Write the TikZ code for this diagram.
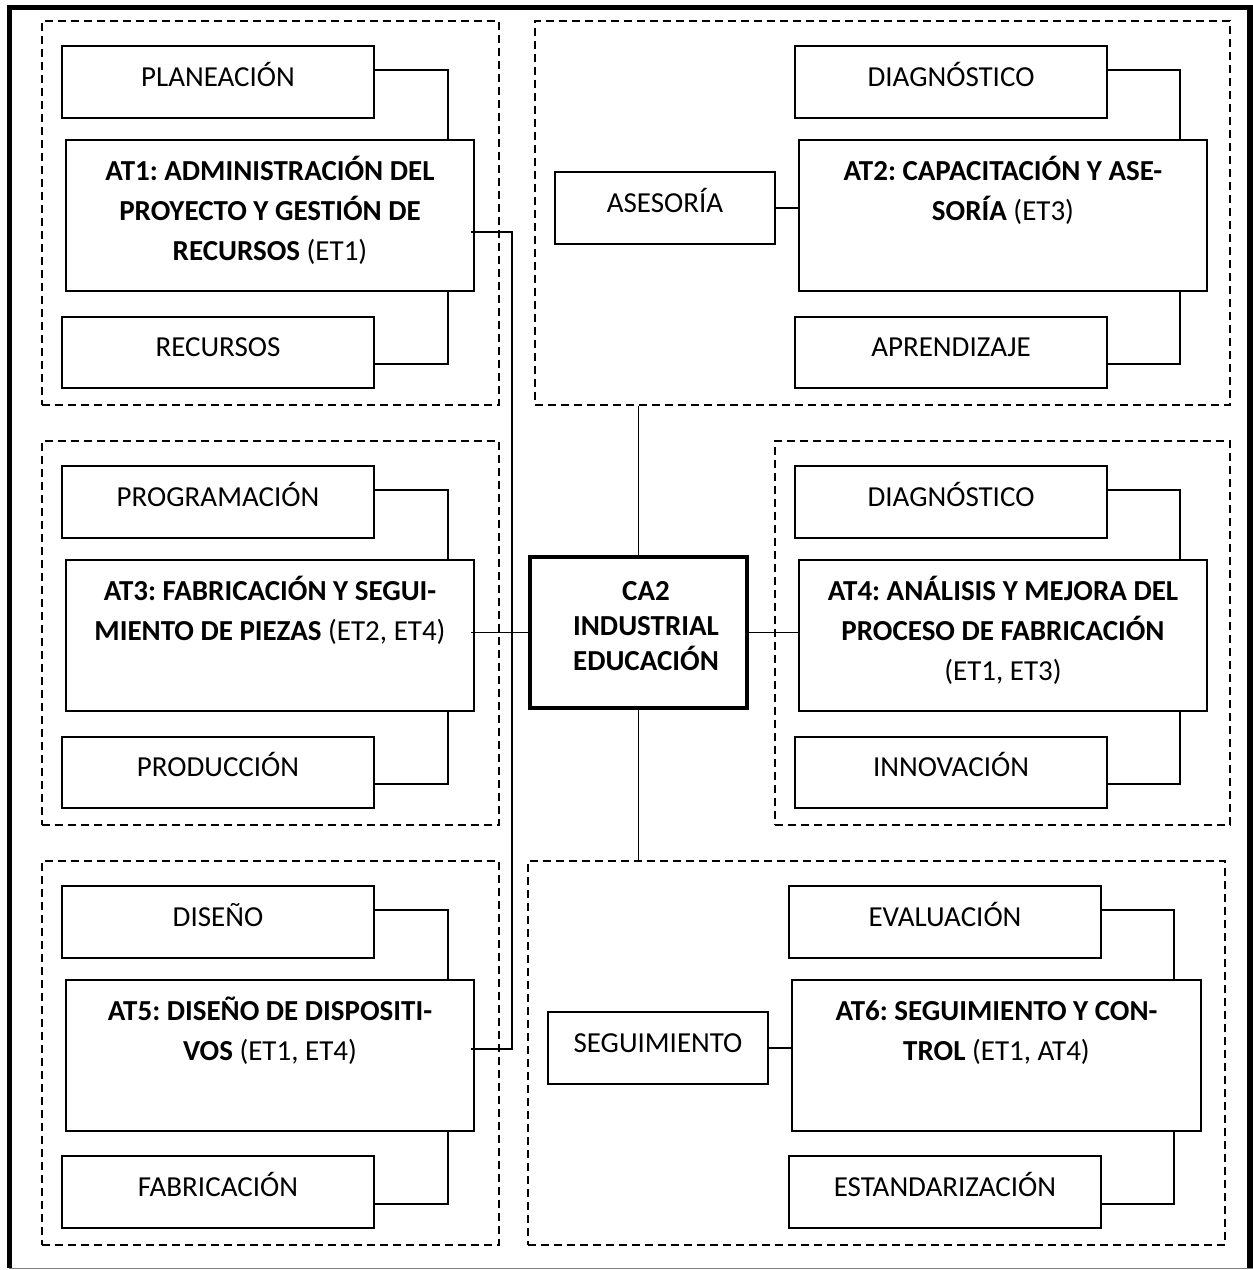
\documentclass[tikz,border=0pt]{standalone}
\usepackage{fontspec}
\setmainfont{Carlito}
\frenchspacing
\usetikzlibrary{fit,calc}
\begin{document}
\begin{tikzpicture}[x=1pt,y=-1pt,
  box/.style={draw, line width=1.8pt, inner sep=0pt},
  zone/.style={draw, line width=1.6pt, dash pattern=on 8pt off 5pt, inner sep=0pt},
  hub/.style={draw, line width=4pt, inner sep=0pt},
  link/.style={line width=1.8pt},
  lbl/.style={anchor=base, inner sep=0pt, font=\fontsize{29}{35}\selectfont},
  head/.style={anchor=north, inner sep=0pt, align=center, font=\fontsize{29}{40}\selectfont},
]
\useasboundingbox (0,0) rectangle (1253,1270);

% outer frame
\draw[line width=5.5pt] (9.5,1268) -- (9.5,7.5) -- (1250,7.5) -- (1250,1268);
\draw[gray, line width=1.2pt] (9,1268.5) -- (1253,1268.5);

% ---------- AT1 group ----------
\node[zone, fit={(42,21)(499,405)}] (z1) {};
\node[box, fit={(62,46)(374,118)}] (plan1) {};
\node[box, fit={(66,140)(474,291)}] (at1) {};
\node[box, fit={(62,317)(374,388)}] (rec1) {};
\node[lbl] (tplan1) at ([yshift=-4pt]plan1.center) {PLANEACIÓN};
\node[lbl] (trec1) at ([yshift=-4pt]rec1.center) {RECURSOS};
\node[head] (tat1) at ([yshift=-11pt]at1.north)
  {\rule{0pt}{30pt}\textbf{AT1: ADMINISTRACIÓN DEL}\\\textbf{PROYECTO Y GESTIÓN DE}\\\textbf{RECURSOS} (ET1)};
\draw[link] ($(plan1.north east)!0.333!(plan1.south east)$) -| ($(at1.north west)!0.934!(at1.north east)$);
\draw[link] ($(at1.south west)!0.934!(at1.south east)$) |- ($(rec1.north east)!0.66!(rec1.south east)$);

% ---------- AT3 group ----------
\node[zone, fit={(42,441)(499,825)}] (z3) {};
\node[box, fit={(62,466)(374,538)}] (prog) {};
\node[box, fit={(66,560)(474,711)}] (at3) {};
\node[box, fit={(62,737)(374,808)}] (prod) {};
\node[lbl] (tprog) at ([yshift=-4pt]prog.center) {PROGRAMACIÓN};
\node[lbl] (tprod) at ([yshift=-4pt]prod.center) {PRODUCCIÓN};
\node[head] (tat3) at ([yshift=-11pt]at3.north)
  {\rule{0pt}{30pt}\textbf{AT3: FABRICACIÓN Y SEGUI-}\\\textbf{MIENTO DE PIEZAS} (ET2, ET4)};
\draw[link] ($(prog.north east)!0.333!(prog.south east)$) -| ($(at3.north west)!0.934!(at3.north east)$);
\draw[link] ($(at3.south west)!0.934!(at3.south east)$) |- ($(prod.north east)!0.66!(prod.south east)$);

% ---------- AT5 group ----------
\node[zone, fit={(42,861)(499,1245)}] (z5) {};
\node[box, fit={(62,886)(374,958)}] (dis) {};
\node[box, fit={(66,980)(474,1131)}] (at5) {};
\node[box, fit={(62,1156)(374,1228)}] (fab) {};
\node[lbl] (tdis) at ([yshift=-4pt]dis.center) {DISEÑO};
\node[lbl] (tfab) at ([yshift=-4pt]fab.center) {FABRICACIÓN};
\node[head] (tat5) at ([yshift=-11pt]at5.north)
  {\rule{0pt}{30pt}\textbf{AT5: DISEÑO DE DISPOSITI-}\\\textbf{VOS} (ET1, ET4)};
\draw[link] ($(dis.north east)!0.333!(dis.south east)$) -| ($(at5.north west)!0.934!(at5.north east)$);
\draw[link] ($(at5.south west)!0.934!(at5.south east)$) |- ($(fab.north east)!0.66!(fab.south east)$);

% ---------- AT2 group ----------
\node[zone, fit={(535,21)(1230,405)}] (z2) {};
\node[box, fit={(795,46)(1107,118)}] (diag2) {};
\node[box, fit={(799,140)(1207,291)}] (at2) {};
\node[box, fit={(555,172)(775,244)}] (ases) {};
\node[box, fit={(795,317)(1107,388)}] (apre) {};
\node[lbl] (tdiag2) at ([yshift=-4pt]diag2.center) {DIAGNÓSTICO};
\node[lbl] (tases) at ([yshift=-4pt]ases.center) {ASESORÍA};
\node[lbl] (tapre) at ([yshift=-4pt]apre.center) {APRENDIZAJE};
\node[head] (tat2) at ([yshift=-11pt]at2.north)
  {\rule{0pt}{30pt}\textbf{AT2: CAPACITACIÓN Y ASE-}\\\textbf{SORÍA} (ET3)};
\draw[link] ($(diag2.north east)!0.333!(diag2.south east)$) -| ($(at2.north west)!0.931!(at2.north east)$);
\draw[link] ($(at2.south west)!0.931!(at2.south east)$) |- ($(apre.north east)!0.66!(apre.south east)$);
\draw[link] (ases.east) -- (ases.east -| at2.west);

% ---------- AT4 group ----------
\node[zone, fit={(775,441)(1230,825)}] (z4) {};
\node[box, fit={(795,466)(1107,538)}] (diag4) {};
\node[box, fit={(799,560)(1207,711)}] (at4) {};
\node[box, fit={(795,737)(1107,808)}] (inno) {};
\node[lbl] (tdiag4) at ([yshift=-4pt]diag4.center) {DIAGNÓSTICO};
\node[lbl] (tinno) at ([yshift=-4pt]inno.center) {INNOVACIÓN};
\node[head] (tat4) at ([yshift=-11pt]at4.north)
  {\rule{0pt}{30pt}\textbf{AT4: ANÁLISIS Y MEJORA DEL}\\\textbf{PROCESO DE FABRICACIÓN}\\(ET1, ET3)};
\draw[link] ($(diag4.north east)!0.333!(diag4.south east)$) -| ($(at4.north west)!0.931!(at4.north east)$);
\draw[link] ($(at4.south west)!0.931!(at4.south east)$) |- ($(inno.north east)!0.66!(inno.south east)$);

% ---------- AT6 group ----------
\node[zone, fit={(528,861)(1225,1245)}] (z6) {};
\node[box, fit={(789,886)(1101,958)}] (eval) {};
\node[box, fit={(792,980)(1201,1131)}] (at6) {};
\node[box, fit={(548,1012)(768,1084)}] (segu) {};
\node[box, fit={(789,1156)(1101,1228)}] (esta) {};
\node[lbl] (teval) at ([yshift=-4pt]eval.center) {EVALUACIÓN};
\node[lbl] (tsegu) at ([yshift=-4pt]segu.center) {SEGUIMIENTO};
\node[lbl] (testa) at ([yshift=-4pt]esta.center) {ESTANDARIZACIÓN};
\node[head] (tat6) at ([yshift=-11pt]at6.north)
  {\rule{0pt}{30pt}\textbf{AT6: SEGUIMIENTO Y CON-}\\\textbf{TROL} (ET1, AT4)};
\draw[link] ($(eval.north east)!0.333!(eval.south east)$) -| ($(at6.north west)!0.932!(at6.north east)$);
\draw[link] ($(at6.south west)!0.932!(at6.south east)$) |- ($(esta.north east)!0.66!(esta.south east)$);
\draw[link] (segu.east) -- (segu.east -| at6.west);

% ---------- central hub ----------
\node[hub, fit={(530,557)(747,708)}] (ca2) {};
\node[head, font=\fontsize{29}{35}\selectfont] (tca2) at ([xshift=7.5pt,yshift=-15pt]ca2.north)
  {\rule{0pt}{30pt}\textbf{CA2}\\\textbf{INDUSTRIAL}\\\textbf{EDUCACIÓN}};

\draw[link] (ca2.north) -- (ca2.north |- z2.south);
\draw[link] (ca2.south) -- (ca2.south |- z6.north);
\draw[link] (ca2.east) -- (ca2.east -| at4.west);
\draw[link] (ca2.west) -- ([xshift=-4pt]ca2.west -| at3.east);

% left trunk joining AT1 and AT5
\draw[link] ($(at1.north east)!0.61!(at1.south east)+(-4,0)$) -- ++(41,0)
  |- ($(at5.north east)!0.457!(at5.south east)+(-4,0)$);
\end{tikzpicture}
\end{document}
